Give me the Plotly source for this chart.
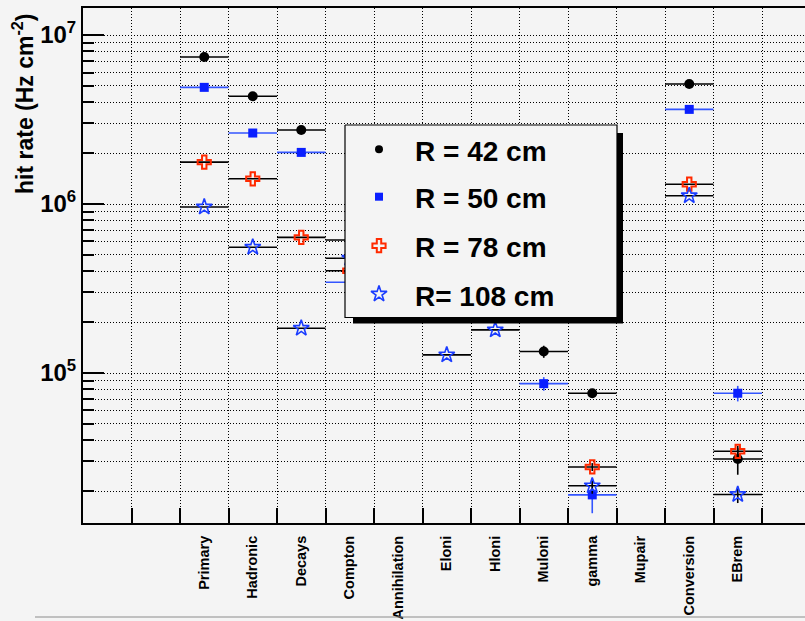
import numpy as np
import plotly.graph_objects as go

# ---------------- data ----------------
categories = ["Primary", "Hadronic", "Decays", "Compton", "Annihilation", "Eloni",
              "Hloni", "Muloni", "gamma", "Mupair", "Conversion", "EBrem"]
FIRST_BIN = 2  # two empty bins precede "Primary"

r42 = [7.41e6, 4.34e6, 2.74e6, 6.12e5, None, None, None, 1.34e5, 7.59e4, None, 5.13e6, 3.10e4]
r42_err = [0, 0, 0, 0, 0, 0, 0, 1.1e4, 3.0e3, 0, 0, 6.0e3]
r50 = [4.90e6, 2.63e6, 2.02e6, 3.44e5, None, None, None, 8.65e4, 1.90e4, None, 3.63e6, 7.59e4]
r50_err = [0, 0, 0, 0, 0, 0, 0, 8.0e3, 4.2e3, 0, 0, 8.0e3]
r78 = [1.77e6, 1.41e6, 6.35e5, 4.03e5, None, None, None, None, 2.78e4, None, 1.31e6, 3.44e4]
r78_err = [0, 0, 0, 0, 0, 0, 0, 0, 1.5e3, 0, 0, 1.5e3]
r108 = [9.6e5, 5.55e5, 1.84e5, 4.78e5, None, 1.28e5, 1.80e5, None, 2.15e4, None, 1.12e6, 1.91e4]
r108_err = [0, 0, 0, 0, 0, 0, 0, 0, 2.2e3, 0, 0, 2.1e3]

series_names = ["R = 42 cm", "R = 50 cm", "R = 78 cm", "R= 108 cm"]
y_major = [1e5, 1e6, 1e7]
y_major_text = ["10<sup>5</sup>", "10<sup>6</sup>", "10<sup>7</sup>"]
y_minor = [m * 10 ** e for e in (4, 5, 6) for m in range(2, 10)]

# ---------------- layout constants ----------------
W, H = 805, 621
ML, MT, MB = 83, 8, 98
PW, PH = W - ML, H - MT - MB
BIN_PX = 48.5
BG = "#f4f4f4"
FONT = "Liberation Sans, Arial, Helvetica, sans-serif"

x = np.arange(len(categories)) + FIRST_BIN + 0.5

styles = [
    dict(symbol="circle", size=10, color="black", line=dict(width=0), ecolor="black"),
    dict(symbol="square", size=9, color="#0a1fff", line=dict(width=0), ecolor="#3355ff"),
    dict(symbol="cross-open", size=11, color="#ff2a00", line=dict(width=2, color="#ff2a00"), ecolor="black"),
    dict(symbol="star-open", size=12, color="#1a3cff", line=dict(width=1.6, color="#1a3cff"), ecolor="black"),
]
values = [r42, r50, r78, r108]
errors = [r42_err, r50_err, r78_err, r108_err]

fig = go.Figure()
for name, vals, errs, st in zip(series_names, values, errors, styles):
    fig.add_trace(go.Scatter(
        x=x, y=vals, mode="markers", name=name, showlegend=False,
        marker=dict(symbol=st["symbol"], size=st["size"], color=st["color"], line=st["line"]),
        error_x=dict(type="constant", value=0.5, width=0, thickness=1.6, color=st["ecolor"]),
        error_y=dict(type="data", array=errs, width=0, thickness=1.6, color=st["ecolor"]),
        cliponaxis=False,
    ))

# ---------------- legend drawn on an overlay (pixel) axis ----------------
LX0, LX1, LY0, LY1 = 262, 534, 117, 309.5   # box in plot-area pixels
SH = 6                                        # shadow offset
fig.add_trace(go.Scatter(
    x=[LX0 + SH + 2, LX1 + SH, LX1 + SH, LX0 + SH + 2, LX0 + SH + 2],
    y=[LY0 + SH + 2, LY0 + SH + 2, LY1 + SH, LY1 + SH, LY0 + SH + 2],
    xaxis="x2", yaxis="y2", mode="lines", fill="toself", fillcolor="black",
    line=dict(color="black", width=0), showlegend=False, hoverinfo="skip"))
fig.add_trace(go.Scatter(
    x=[LX0, LX1, LX1, LX0, LX0], y=[LY0, LY0, LY1, LY1, LY0],
    xaxis="x2", yaxis="y2", mode="lines", fill="toself", fillcolor=BG,
    line=dict(color="black", width=1.2), showlegend=False, hoverinfo="skip"))
leg_marker_x = 296
leg_text_x = 330
leg_row_y = [141.3, 188.7, 237.7, 286.0]
leg_sizes = [8, 8, 11, 12]
for name, st, ry, sz in zip(series_names, styles, leg_row_y, leg_sizes):
    fig.add_trace(go.Scatter(
        x=[leg_marker_x], y=[ry], xaxis="x2", yaxis="y2", mode="markers",
        marker=dict(symbol=st["symbol"], size=sz, color=st["color"], line=st["line"]),
        showlegend=False, hoverinfo="skip"))
    fig.add_annotation(x=leg_text_x, y=ry + 2, xref="x2", yref="y2", text=name,
                       showarrow=False, xanchor="left", yanchor="middle",
                       font=dict(family=FONT, size=28, color="black", weight="bold"))

# ---------------- axes ----------------
n_bins_visible = PW / BIN_PX
grid_dash = "1px,2px"
fig.update_layout(
    width=W, height=H,
    margin=dict(l=ML, r=W - ML - PW, t=MT, b=MB, autoexpand=False),
    paper_bgcolor=BG, plot_bgcolor=BG,
    font=dict(family=FONT, color="black"),
    xaxis=dict(
        range=[0, n_bins_visible], tickmode="array",
        tickvals=list(x), ticktext=categories, ticks="", tickangle=-90,
        tickfont=dict(family=FONT, size=14.5, weight="bold", color="black"),
        ticklabelstandoff=5,
        showgrid=False, zeroline=False,
        showline=True, linecolor="black", linewidth=2, mirror=True,
        minor=dict(tickmode="array", tickvals=list(range(1, 16)), ticks="inside",
                   ticklen=15, tickwidth=2, tickcolor="black",
                   showgrid=True, gridcolor="black", griddash=grid_dash, gridwidth=1),
        automargin=False, fixedrange=True,
    ),
    yaxis=dict(
        type="log", range=[4.1124, 7.1598], tickmode="array",
        tickvals=y_major, ticktext=y_major_text, ticks="inside", ticklen=21,
        tickwidth=2, tickcolor="black",
        tickfont=dict(family=FONT, size=24, weight="bold", color="black"),
        ticklabelstandoff=0,
        showgrid=True, gridcolor="black", griddash=grid_dash, gridwidth=1,
        zeroline=False, showline=True, linecolor="black", linewidth=2,
        minor=dict(tickmode="array", tickvals=y_minor, ticks="inside", ticklen=11,
                   tickwidth=2, tickcolor="black",
                   showgrid=True, gridcolor="black", griddash=grid_dash, gridwidth=1),
        automargin=False, fixedrange=True,
    ),
    xaxis2=dict(overlaying="x", range=[0, PW], visible=False, fixedrange=True),
    yaxis2=dict(overlaying="y", range=[PH, 0], visible=False, fixedrange=True),
    showlegend=False,
)

# y-axis title, aligned to the top end of the axis (ROOT style)
fig.add_annotation(
    x=(23 - ML) / PW, y=(PH + MT - 12) / PH, xref="paper", yref="paper",
    text="hit rate (Hz cm<sup>-2</sup>)", textangle=-90, showarrow=False,
    xanchor="center", yanchor="top",
    font=dict(family=FONT, size=23, color="black", weight="bold"))

# thin grey canvas line at the bottom
fig.add_shape(type="line", xref="paper", yref="paper",
              x0=(35 - ML) / PW, x1=1.0, y0=-(617 - MT - PH) / PH, y1=-(617 - MT - PH) / PH,
              line=dict(color="#8c8c8c", width=1))

fig.write_html("out.html", config={"displayModeBar": False, "staticPlot": True},
               post_script="document.body.style.margin='0px';document.body.style.overflow='hidden';")
